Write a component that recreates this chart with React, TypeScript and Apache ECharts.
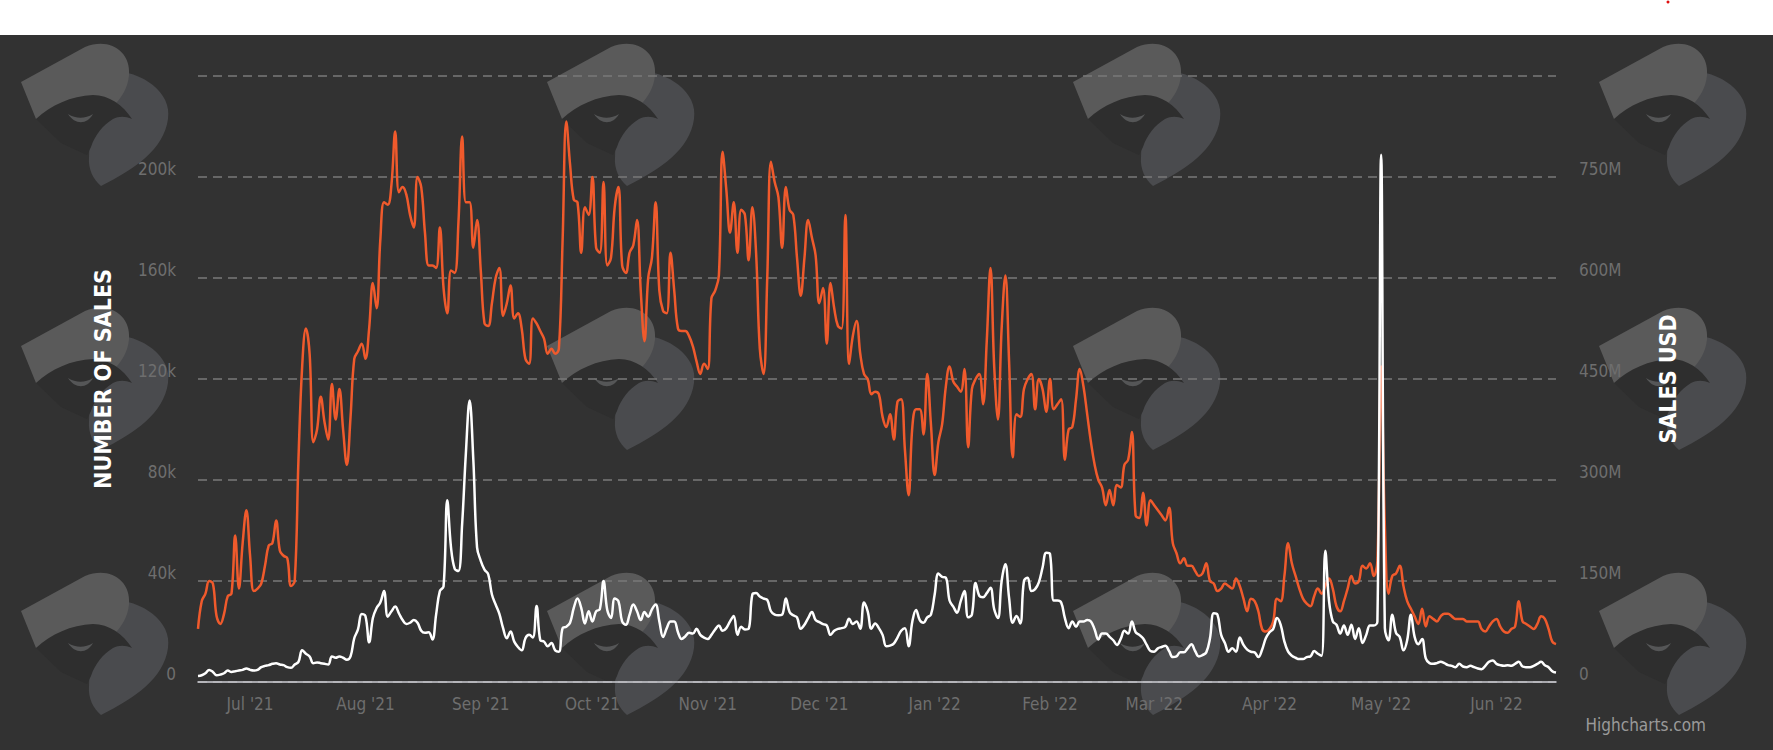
import React, { useEffect, useRef } from "react";
import * as echarts from "echarts";

// ---- data ----
const START_DATE = "2021-06-17"; // first daily point
// Number of sales per day (thousands), left axis
const salesCountK: number[] = [
  21, 32, 35, 40, 39, 26, 23, 27, 34, 35, 58, 37, 55, 68, 50, 36, 37, 39, 46, 54, 55, 64, 52, 50, 49, 38, 40, 88, 125, 140, 130, 95, 100, 113, 103, 96, 118, 104, 116, 100, 86, 105, 128, 131, 134, 128,
  140, 158, 148, 175, 190, 189, 197, 218, 194, 196, 193, 185, 180, 200, 196, 178, 165, 165, 164, 180, 156, 146, 163, 162, 182, 216, 190, 190, 172, 183, 163, 142, 141, 150, 160, 164, 145, 150, 157, 144, 146, 140, 128, 126, 144, 142,
  139, 136, 130, 132, 130, 132, 175, 222, 205, 191, 190, 170, 188, 185, 200, 172, 170, 198, 165, 168, 188, 196, 165, 162, 170, 173, 183, 155, 135, 160, 168, 190, 155, 147, 146, 170, 155, 140, 139, 139, 137, 133, 127, 122, 126, 124,
  152, 155, 161, 210, 195, 178, 190, 170, 187, 185, 167, 188, 170, 132, 122, 160, 206, 198, 192, 172, 196, 187, 185, 168, 153, 168, 183, 176, 169, 150, 156, 134, 158, 148, 141, 140, 185, 126, 137, 143, 130, 122, 120, 114, 115,
  114, 105, 101, 106, 96, 111, 112, 92, 74, 101, 108, 108, 98, 122, 102, 82, 95, 102, 117, 125, 119, 117, 115, 124, 93, 116, 120, 122, 110, 135, 164, 125, 104, 140, 161, 127, 89, 106, 105, 116, 120, 122, 108, 120, 116, 107,
  120, 108, 110, 112, 88, 100, 101, 112, 124, 117, 106, 95, 86, 80, 77, 70, 76, 70, 78, 77, 86, 88, 99, 66, 65, 75, 62, 72, 70, 68, 66, 64, 69, 55, 51, 47, 49, 46, 46, 44, 42, 43, 47, 40, 39, 36,
  37, 39, 38, 37, 41, 38, 33, 28, 33, 32, 28, 21, 20, 21, 24, 33, 32, 42, 55, 47, 42, 37, 33, 31, 30, 34, 37, 35, 38, 41, 37, 30, 28, 32, 37, 42, 39, 40, 46, 45, 47, 42, 48, 125, 62,
  35, 42, 43, 46, 38, 32, 29, 26, 23, 29, 22, 26, 25, 24, 26, 27, 27, 26, 25, 25, 25, 24, 24, 24, 24, 21, 20, 22, 24, 25, 22, 20, 19.5, 21, 22, 32, 24, 23, 22, 21, 23, 26, 25, 21, 16, 15,
];
// Sales volume per day (millions USD), right axis
const salesUsdM: number[] = [
  9, 10, 13, 18, 15, 10, 11, 13, 17, 15, 16, 17, 18, 20, 18, 17, 18, 22, 24, 25, 27, 28, 26, 25, 22, 21, 26, 30, 47, 42, 38, 28, 29, 28, 27, 26, 38, 36, 38, 36, 33, 38, 65, 78, 101, 98,
  59, 95, 110, 118, 135, 97, 105, 112, 102, 92, 86, 88, 92, 88, 76, 73, 74, 63, 100, 135, 142, 270, 200, 168, 165, 235, 340, 418, 330, 200, 180, 167, 160, 130, 115, 101, 80, 65, 75, 60, 52, 47, 65, 70, 66, 113,
  62, 60, 53, 58, 47, 45, 80, 82, 88, 110, 124, 110, 87, 105, 90, 105, 108, 150, 107, 95, 124, 120, 90, 85, 100, 115, 105, 92, 104, 97, 108, 115, 90, 67, 80, 90, 90, 74, 64, 68, 73, 72, 79, 70, 66, 64,
  70, 78, 84, 76, 80, 90, 98, 70, 82, 78, 79, 130, 132, 127, 124, 122, 105, 100, 99, 100, 124, 104, 99, 96, 79, 85, 95, 104, 92, 89, 86, 84, 70, 76, 79, 80, 82, 94, 86, 90, 79, 118, 105, 79, 87,
  80, 70, 53, 54, 57, 66, 76, 80, 53, 90, 107, 92, 88, 96, 100, 130, 161, 156, 155, 121, 112, 103, 120, 135, 96, 100, 147, 128, 126, 132, 140, 108, 95, 150, 175, 125, 88, 98, 87, 150, 155, 135, 138, 148, 170, 192,
  190, 121, 121, 118, 95, 80, 90, 82, 90, 90, 92, 90, 78, 63, 72, 72, 67, 62, 55, 64, 76, 72, 90, 74, 70, 65, 55, 46, 45, 50, 52, 54, 46, 37, 38, 44, 44, 50, 56, 46, 38, 40, 44, 65, 102, 100,
  70, 58, 45, 50, 45, 66, 55, 48, 45, 44, 37, 48, 65, 74, 79, 95, 85, 60, 45, 39, 36, 34, 34, 37, 38, 46, 42, 39, 195, 120, 90, 85, 72, 84, 70, 85, 64, 80, 58, 70, 84, 84, 90, 783, 80,
  62, 100, 73, 67, 47, 62, 100, 67, 56, 64, 35, 28, 27, 28, 30, 28, 25, 24, 22, 27, 23, 22, 24, 22, 20, 19, 24, 30, 32, 27, 25, 24, 25, 24, 27, 30, 23, 22, 22, 24, 27, 30, 25, 22, 16, 14,
];
const monthTicks = [
  "2021-07-01", "2021-08-01", "2021-09-01", "2021-10-01", "2021-11-01", "2021-12-01",
  "2022-01-01", "2022-02-01", "2022-03-01", "2022-04-01", "2022-05-01", "2022-06-01",
];
const monthLabels = [
  "Jul '21", "Aug '21", "Sep '21", "Oct '21", "Nov '21", "Dec '21",
  "Jan '22", "Feb '22", "Mar '22", "Apr '22", "May '22", "Jun '22",
];
const leftAxisMax = 240;
const leftAxisStep = 40;
const rightAxisMax = 900;
const rightAxisStep = 150;

// ---- styling / layout ----
const NARROW = '"Liberation Sans Narrow", "DejaVu Sans Condensed", "Open Sans", sans-serif';
const BG = "#323232";
const ORANGE = "#f05a2c";
const LOGO_COLS = [21, 547, 1073, 1599];
const LOGO_ROWS = [43, 307, 572];

const LOGO_BACK = "M71 30 C110 20 152 45 147 76 C143 106 114 126 80 143 C72 136 67 126 68 114 Z";
const LOGO_BAND = "M0 39 L64 4 C88 -6 110 8 108 32 C107 45 100 55 95 60 L15 76 Z";
const LOGO_HEAD = "M15 76 C30 62 50 53 72 52 C88 52 102 62 111 76 C104 73 98 73 92 76 C82 82 74 92 70 104 L66 112 L40 100 Z";
const LOGO_EYE = "M47 71 C54 82 66 82 72 71 C64 76 55 76 47 71 Z";

let shapesRegistered = false;
function registerShapes() {
  if (shapesRegistered) return;
  echarts.graphic.registerShape("logoBack", echarts.graphic.extendPath(LOGO_BACK, {}));
  echarts.graphic.registerShape("logoBand", echarts.graphic.extendPath(LOGO_BAND, {}));
  echarts.graphic.registerShape("logoHead", echarts.graphic.extendPath(LOGO_HEAD, {}));
  echarts.graphic.registerShape("logoEye", echarts.graphic.extendPath(LOGO_EYE, {}));
  shapesRegistered = true;
}

const DAY = 86400000;
const toMs = (d: string) => Date.parse(d + "T00:00:00Z");

export default function App() {
  const ref = useRef<HTMLDivElement>(null);

  useEffect(() => {
    if (!ref.current) return;
    registerShapes();
    const chart = echarts.init(ref.current, undefined, { renderer: "svg" });
    const start = toMs(START_DATE);
    const countData = salesCountK.map((v, i) => [start + i * DAY, v]);
    const usdData = salesUsdM.map((v, i) => [start + i * DAY, v]);
    const tickMs = monthTicks.map(toMs);

    const logos: any[] = [];
    LOGO_ROWS.forEach((y) =>
      LOGO_COLS.forEach((x) => {
        logos.push({
          type: "group",
          x,
          y,
          z: -10,
          silent: true,
          children: [
            { type: "logoBack", style: { fill: "#4a4b4e" } },
            { type: "logoBand", style: { fill: "#5a5a5a" } },
            { type: "logoHead", style: { fill: "#2e2e2e" } },
            { type: "logoEye", style: { fill: "#555657" } },
          ],
        });
      })
    );

    chart.setOption({
      animation: false,
      backgroundColor: BG,
      grid: { left: 198, right: 217, top: 76, bottom: 68, containLabel: false },
      graphic: [
        ...logos,
        { type: "rect", z: 100, silent: true, shape: { x: 0, y: 0, width: 1773, height: 35 }, style: { fill: "#ffffff" } },
        { type: "circle", z: 101, silent: true, shape: { cx: 1668, cy: 2, r: 1.5 }, style: { fill: "#e01010" } },
        {
          type: "text",
          z: 50,
          silent: true,
          x: 1706,
          y: 725,
          style: { text: "Highcharts.com", fill: "#9a9a9a", fontSize: 17, fontFamily: NARROW, align: "right", verticalAlign: "middle" },
        },
      ],
      xAxis: {
        type: "value",
        min: start,
        max: start + (salesCountK.length - 1) * DAY,
        axisLine: { show: true, lineStyle: { color: "#cfcfd6", width: 1.5 } },
        axisTick: { show: false },
        splitLine: { show: false },
        axisLabel: {
          customValues: tickMs,
          color: "#6e6e6e",
          fontSize: 17,
          fontFamily: NARROW,
          margin: 13,
          hideOverlap: false,
          formatter: (val: number) => {
            let best = 0;
            tickMs.forEach((t, i) => {
              if (Math.abs(t - val) < Math.abs(tickMs[best] - val)) best = i;
            });
            return monthLabels[best];
          },
        },
      },
      yAxis: [
        {
          type: "value",
          min: 0,
          max: leftAxisMax,
          interval: leftAxisStep,
          position: "left",
          name: "NUMBER OF SALES",
          nameLocation: "middle",
          nameGap: 84,
          nameTextStyle: { color: "#ffffff", fontWeight: "bold", fontSize: 23, fontFamily: NARROW },
          axisLine: { show: false },
          axisTick: { show: false },
          splitLine: { show: true, lineStyle: { color: "#7a7a7a", type: [9, 6], width: 1.5 } },
          axisLabel: {
            showMaxLabel: false,
            color: "#6e6e6e",
            fontSize: 17,
            fontFamily: NARROW,
            margin: 22,
            verticalAlign: "bottom",
            formatter: (v: number) => (v === 0 ? "0" : `${v}k`),
          },
        },
        {
          type: "value",
          min: 0,
          max: rightAxisMax,
          interval: rightAxisStep,
          position: "right",
          name: "SALES USD",
          nameLocation: "middle",
          nameGap: 100,
          nameTextStyle: { color: "#ffffff", fontWeight: "bold", fontSize: 23, fontFamily: NARROW },
          axisLine: { show: false },
          axisTick: { show: false },
          splitLine: { show: false },
          axisLabel: {
            showMaxLabel: false,
            color: "#6e6e6e",
            fontSize: 17,
            fontFamily: NARROW,
            margin: 23,
            verticalAlign: "bottom",
            formatter: (v: number) => (v === 0 ? "0" : `${v}M`),
          },
        },
      ],
      series: [
        {
          name: "Number of sales",
          type: "line",
          yAxisIndex: 0,
          data: countData,
          smooth: 0.4,
          symbol: "none",
          lineStyle: { color: ORANGE, width: 2.5 },
          z: 2,
        },
        {
          name: "Sales USD",
          type: "line",
          yAxisIndex: 1,
          data: usdData,
          smooth: 0.4,
          symbol: "none",
          lineStyle: { color: "#ffffff", width: 2.5 },
          z: 3,
        },
      ],
    });
    return () => chart.dispose();
  }, []);

  return (
    <div
      ref={ref}
      style={{ position: "fixed", left: 0, top: 0, width: 1773, height: 750 }}
    />
  );
}
